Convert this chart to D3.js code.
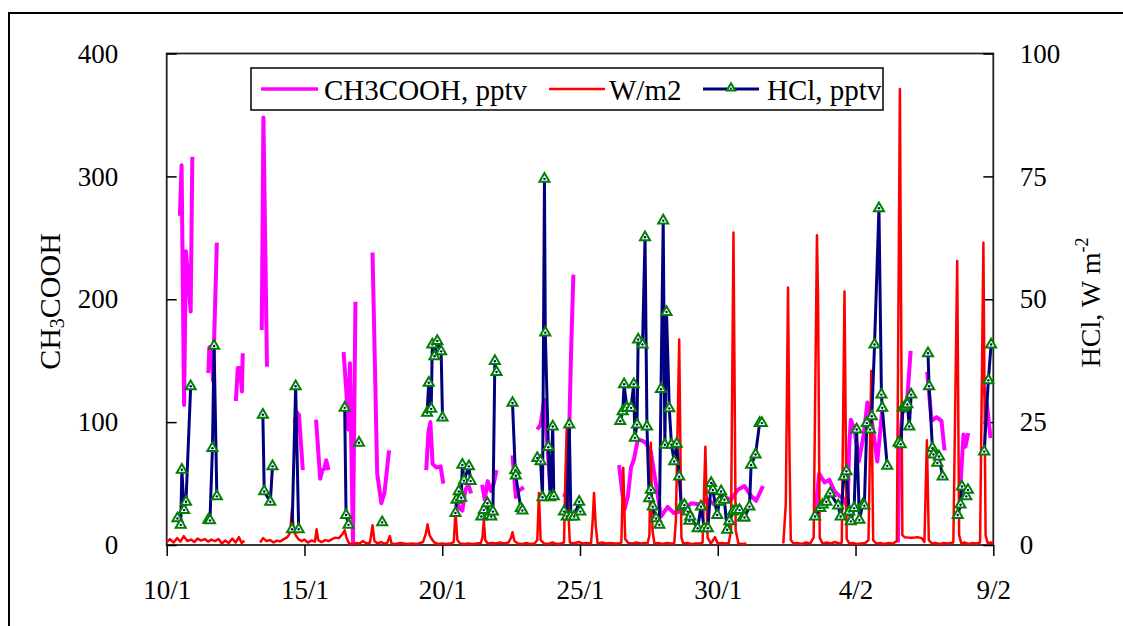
<!DOCTYPE html>
<html>
<head>
<meta charset="utf-8">
<script src="https://cdn.jsdelivr.net/npm/d3@7"></script>
<style>
  body { margin: 0; background: #fff; }
</style>
</head>
<body>
<script>
// x values are days counted from 1 January (10 = 10/1, 40 = 9/2); null breaks a line
const xTicks = [10, 15, 20, 25, 30, 35, 40];
const xTickLabels = ["10/1", "15/1", "20/1", "25/1", "30/1", "4/2", "9/2"];
const leftTicks = [0, 100, 200, 300, 400];
const rightTicks = [0, 25, 50, 75, 100];
const seriesNames = ["CH3COOH, pptv", "W/m2", "HCl, pptv"];

// CH3COOH (left axis, pptv)
const ch3cooh = [
  [10.48, 268], [10.54, 309], [10.63, 114], [10.70, 239], [10.87, 190], [10.93, 316], null,
  [11.51, 140], [11.55, 161], [11.64, 161], [11.68, 134], [11.82, 246], null,
  [12.51, 117], [12.58, 144], [12.67, 144], [12.73, 125], [12.76, 156], null,
  [13.45, 175], [13.51, 348], [13.64, 145], null,
  [14.64, 99], [14.72, 108], [14.80, 106], [14.94, 61], null,
  [15.42, 102], [15.57, 54], [15.65, 61], [15.72, 62], [15.79, 69], [15.87, 61], null,
  [16.42, 157], [16.52, 125], [16.59, 94], [16.65, 148], [16.70, 80], [16.76, 2], [16.85, 198], null,
  [17.47, 238], [17.64, 58], [17.79, 34], [17.90, 42], [18.07, 77], null,
  [19.42, 61], [19.50, 92], [19.57, 100], [19.65, 66], [19.79, 63], [19.94, 64], [20.04, 50], null,
  [20.51, 38], [20.62, 30], [20.73, 28], [20.84, 45], [20.95, 49], [21.05, 42], null,
  [21.45, 49], [21.54, 37], [21.65, 52], [21.76, 44], [21.87, 50], [21.97, 61], null,
  [22.55, 73], [22.67, 39], [22.77, 44], [22.96, 47], null,
  [23.45, 94], [23.57, 98], [23.70, 118], [23.82, 80], [23.92, 45], null,
  [24.42, 39], [24.52, 45], [24.61, 95], [24.68, 160], [24.76, 220], null,
  [26.42, 65], [26.52, 45], [26.62, 29], [26.74, 40], [26.85, 63], [26.96, 70], [27.10, 86], [27.25, 85],
  [27.39, 83], [27.57, 76], [27.76, 49], [27.94, 23], [28.18, 31], [28.41, 26], [28.77, 28], [29.03, 34],
  [29.39, 33], [29.64, 37], [29.87, 33], [30.12, 40], [30.48, 37], [30.73, 45], [30.97, 48], [31.21, 40],
  [31.39, 36], [31.64, 48], null,
  [33.52, 22], [33.68, 58], [33.87, 51], [34.05, 53], [34.23, 44], [34.41, 40], [34.56, 38], [34.71, 30],
  [34.77, 80], [34.83, 102], [34.96, 94], [35.12, 68], [35.30, 90], [35.43, 116], [35.61, 98], [35.79, 68],
  [35.97, 110], [36.10, 110], null,
  [36.54, 2], [36.59, 75], [36.70, 108], [36.85, 110], [37.00, 158], null,
  [37.60, 141], [37.76, 101], [37.94, 104], [38.12, 101], [38.23, 77], null,
  [38.79, 42], [38.92, 90], [38.99, 80], [39.09, 91], null,
  [39.65, 129], [39.78, 112], [39.90, 87]
];

// radiation W/m2 (right axis)
const radiation = [
  [10.00, 0.6], [10.12, 1.2], [10.25, 0.5], [10.38, 1.4], [10.50, 0.7], [10.62, 1.8], [10.75, 0.8], [10.88, 1.1],
  [11.00, 0.6], [11.12, 1.3], [11.25, 0.9], [11.38, 1.2], [11.50, 0.7], [11.62, 1.1], [11.75, 0.8], [11.88, 1.2],
  [12.00, 0.3], [12.12, 0.9], [12.25, 0.4], [12.38, 1.3], [12.50, 0.5], [12.62, 1.6], [12.72, 0.4], [12.82, 0.9], null,
  [13.39, 0.5], [13.50, 1.4], [13.62, 0.8], [13.75, 1.0], [13.88, 0.5], [14.00, 0.9], [14.12, 0.7], [14.25, 1.2],
  [14.38, 1.6], [14.48, 2.5], [14.55, 7.5], [14.60, 3.5], [14.68, 2.0], [14.78, 1.2], [14.90, 0.8], [15.00, 1.1],
  [15.12, 0.5], [15.25, 0.9], [15.38, 0.7], [15.44, 3.2], [15.50, 1.0], [15.62, 0.6], [15.75, 1.0], [15.88, 0.8],
  [16.00, 1.2], [16.12, 1.5], [16.25, 1.4], [16.38, 2.2], [16.46, 3.0], [16.52, 1.6], [16.62, 0.3], [16.75, 0.2],
  [16.88, 0.4], [17.00, 0.3], [17.12, 0.8], [17.25, 0.3], [17.38, 0.5], [17.47, 4.0], [17.54, 0.8], [17.65, 0.3],
  [17.78, 0.6], [17.90, 0.3], [18.00, 0.4], [18.10, 1.8], [18.16, 0.3], [18.30, 0.2], [18.50, 0.4], [18.70, 0.2],
  [18.90, 0.3], [19.10, 0.2], [19.30, 0.6], [19.40, 2.2], [19.47, 4.2], [19.54, 2.0], [19.62, 1.2], [19.72, 0.5],
  [19.85, 0.2], [20.00, 0.3], [20.15, 0.2], [20.30, 0.3], [20.42, 0.6], [20.48, 6.8], [20.55, 1.0], [20.65, 0.3],
  [20.80, 0.2], [20.95, 0.3], [21.10, 0.2], [21.25, 0.3], [21.40, 0.4], [21.46, 1.5], [21.51, 5.2], [21.56, 1.0],
  [21.65, 0.3], [21.80, 0.4], [21.95, 0.3], [22.10, 0.5], [22.25, 0.3], [22.40, 0.5], [22.50, 1.5], [22.55, 2.6],
  [22.62, 0.8], [22.75, 0.3], [22.90, 0.2], [23.05, 0.4], [23.20, 0.2], [23.35, 0.3], [23.45, 1.0], [23.51, 10.6],
  [23.57, 1.0], [23.70, 0.3], [23.85, 0.2], [24.00, 0.5], [24.15, 0.2], [24.30, 0.3], [24.42, 0.5], [24.47, 14],
  [24.52, 24], [24.57, 8], [24.63, 0.5], [24.78, 0.3], [24.95, 0.6], [25.10, 0.3], [25.25, 0.4], [25.40, 0.3],
  [25.46, 5], [25.51, 10.6], [25.57, 4], [25.64, 0.3], [25.80, 0.5], [25.95, 0.3], [26.10, 0.4], [26.25, 0.3],
  [26.40, 0.3], [26.50, 0.5], [26.57, 15.7], [26.64, 1.2], [26.75, 0.4], [26.90, 0.3], [27.05, 0.5], [27.20, 0.3],
  [27.35, 0.4], [27.45, 0.3], [27.52, 2], [27.57, 20.8], [27.63, 3], [27.70, 0.3], [27.85, 0.4], [28.00, 0.2],
  [28.15, 0.4], [28.30, 0.3], [28.42, 0.3], [28.48, 5], [28.60, 41.8], [28.68, 1.5], [28.75, 0.3], [28.90, 0.4],
  [29.05, 0.2], [29.20, 0.3], [29.35, 0.3], [29.45, 0.5], [29.55, 20], [29.63, 1.5], [29.75, 0.3], [29.90, 1.6],
  [30.00, 0.3], [30.15, 0.4], [30.28, 0.3], [30.40, 0.4], [30.48, 3], [30.57, 63.6], [30.65, 3], [30.75, 0.3],
  [30.90, 0.2], [31.04, 0.3], null,
  [32.38, 0.3], [32.47, 8.5], [32.55, 52.4], [32.60, 20], [32.65, 1.0], [32.75, 0.3], [32.90, 0.4], [33.05, 0.2],
  [33.20, 0.5], [33.35, 0.3], [33.48, 1.5], [33.60, 63], [33.64, 50], [33.70, 1.5], [33.80, 0.3], [33.95, 0.5],
  [34.10, 0.3], [34.25, 0.6], [34.40, 0.3], [34.50, 0.5], [34.60, 51.6], [34.68, 1.2], [34.78, 0.3], [34.90, 0.4],
  [35.05, 0.2], [35.20, 0.3], [35.35, 0.4], [35.47, 1.0], [35.57, 35.4], [35.64, 1.0], [35.75, 0.3], [35.90, 0.4],
  [36.05, 0.2], [36.20, 0.4], [36.35, 0.3], [36.50, 0.8], [36.61, 92.8], [36.70, 2], [36.78, 1.6], [36.95, 1.5],
  [37.10, 1.5], [37.25, 1.6], [37.40, 1.4], [37.50, 0.6], [37.59, 21.3], [37.66, 1.0], [37.78, 0.3], [37.90, 0.4],
  [38.05, 0.2], [38.20, 0.4], [38.35, 0.3], [38.55, 0.5], [38.69, 57.8], [38.76, 2], [38.84, 0.3], [38.95, 0.5],
  [39.10, 0.2], [39.25, 0.4], [39.40, 0.3], [39.52, 0.5], [39.64, 61.5], [39.72, 2], [39.80, 0.3], [39.90, 0.5],
  [40.00, 0.3]
];

// HCl (right axis, pptv)
const hcl = [
  [10.39, 5.4], [10.51, 4.1], [10.55, 15.3], [10.63, 7.1], [10.70, 8.8], [10.87, 32.3], null,
  [11.51, 5.1], [11.57, 5.0], [11.66, 19.7], [11.72, 40.5], [11.82, 9.9], null,
  [13.49, 26.5], [13.54, 10.9], [13.76, 8.8], [13.84, 16.0], null,
  [14.55, 3.2], [14.68, 32.3], [14.79, 3.2], null,
  [16.46, 27.9], [16.51, 6.1], [16.60, 4.1], null,
  [16.98, 20.8], null,
  [17.82, 4.6], null,
  [19.45, 26.9], [19.51, 33.0], [19.60, 27.7], [19.64, 40.8], [19.72, 38.4], [19.82, 41.5], [19.96, 39.4], [20.01, 25.9], null,
  [20.48, 6.5], [20.52, 9.2], [20.60, 10.9], [20.69, 9.6], [20.73, 16.3], [20.79, 13.1], [20.97, 16.0], [21.03, 13.0], null,
  [21.42, 5.8], [21.51, 7.1], [21.64, 8.5], [21.69, 6.1], [21.78, 5.8], [21.84, 6.8], [21.91, 37.4], [21.97, 35.2], null,
  [22.55, 28.9], [22.65, 15.2], [22.67, 14.1], [22.85, 7.5], [22.91, 7.0], null,
  [23.45, 17.7], [23.57, 17.0], [23.64, 9.7], [23.71, 74.5], [23.74, 43.2], [23.85, 19.9], [23.92, 9.7], [24.01, 24.1], [24.05, 9.9], null,
  [24.42, 6.8], [24.52, 5.8], [24.61, 24.5], [24.67, 5.8], [24.79, 5.8], [24.97, 8.8], [25.01, 6.8], null,
  [26.46, 25.2], [26.55, 27.2], [26.60, 32.7], [26.70, 27.9], [26.85, 27.9], [26.95, 32.7], [26.99, 21.8], [27.07, 24.5],
  [27.11, 41.8], [27.27, 40.8], [27.36, 62.6], [27.43, 24.1], [27.51, 9.5], [27.57, 11.2], [27.64, 7.8], [27.76, 5.4],
  [27.88, 4.1], [27.94, 31.7], [28.02, 66.0], [28.08, 20.4], [28.14, 47.4], [28.24, 27.8], [28.32, 20.4], [28.42, 17.0],
  [28.51, 20.6], [28.60, 13.9], [28.68, 7.8], [28.79, 8.1], [28.91, 6.8], [28.97, 4.9], [29.00, 5.8], [29.27, 3.4],
  [29.39, 7.8], [29.51, 3.4], [29.64, 3.4], [29.76, 12.6], [29.82, 11.2], [29.98, 6.1], [30.06, 8.8], [30.12, 10.9],
  [30.24, 9.2], [30.34, 3.1], [30.42, 4.8], [30.55, 6.8], [30.67, 7.1], [30.79, 7.1], [30.91, 5.6], [30.97, 5.6],
  [31.15, 7.8], [31.21, 16.3], [31.37, 18.4], [31.52, 24.8], [31.60, 24.8], null,
  [33.53, 5.8], [33.72, 7.5], [33.81, 8.2], [33.94, 8.8], [34.08, 10.5], [34.37, 8.0], [34.46, 5.8], [34.58, 13.9],
  [34.67, 15.0], [34.77, 6.8], [34.83, 4.8], [34.95, 7.5], [35.04, 23.5], [35.14, 5.1], [35.26, 8.2], [35.32, 8.0],
  [35.41, 24.8], [35.53, 23.5], [35.59, 26.2], [35.69, 40.8], [35.85, 68.5], [35.94, 30.6], [35.97, 27.9], [36.15, 16.1], null,
  [36.56, 20.8], [36.64, 20.5], [36.72, 27.9], [36.80, 28.2], [36.88, 28.6], [36.95, 24.1], [37.02, 30.6], null,
  [37.63, 39.0], [37.67, 32.3], [37.79, 19.7], [37.83, 18.4], [37.97, 16.7], [38.03, 18.0], [38.16, 13.9], null,
  [38.71, 6.1], [38.81, 8.2], [38.86, 11.9], [39.02, 9.9], [39.08, 11.2], null,
  [39.67, 19.0], [39.82, 33.5], [39.92, 40.8]
];

// set the dimensions and margins of the graph
const margin = { top: 53.5, right: 129.7, bottom: 81, left: 166.7 };
const width = 1123 - margin.left - margin.right;   // 826.6
const height = 626 - margin.top - margin.bottom;   // 491.5
const font = "Liberation Serif";

const svgRoot = d3.select("body")
    .append("svg")
    .attr("width", 1123)
    .attr("height", 626)
    .style("font-family", font);

// outer chart frame (runs off the right and bottom edges)
svgRoot.append("rect")
    .attr("x", 9).attr("y", 13)
    .attr("width", 1140).attr("height", 640)
    .attr("fill", "none")
    .attr("stroke", "#000")
    .attr("stroke-width", 2);

const svg = svgRoot.append("g")
    .attr("transform", "translate(" + margin.left + "," + margin.top + ")");

// scales
const x = d3.scaleLinear().domain([10, 40]).range([0, width]);
const yLeft = d3.scaleLinear().domain([0, 400]).range([height, 0]);
const yRight = d3.scaleLinear().domain([0, 100]).range([height, 0]);

// plot box
svg.append("rect")
    .attr("width", width)
    .attr("height", height)
    .attr("fill", "none")
    .attr("stroke", "#222")
    .attr("stroke-width", 1.8);

// x axis, ticks outward
const xAxis = svg.append("g")
    .call(d3.axisBottom(x).tickValues(xTicks).tickFormat((d, i) => xTickLabels[i]).tickSize(11).tickSizeOuter(0))
    .attr("transform", "translate(0," + height + ")")
    .attr("font-family", font)
    .attr("font-size", 27);
xAxis.select(".domain").remove();
xAxis.selectAll("line").attr("stroke-width", 1.5);
xAxis.selectAll("text").attr("dy", 0).attr("y", 54);

// left axis, ticks inward
const yAxisL = svg.append("g")
    .call(d3.axisLeft(yLeft).tickValues(leftTicks).tickSize(-10).tickPadding(48.5))
    .attr("font-family", font)
    .attr("font-size", 27);
yAxisL.select(".domain").remove();
yAxisL.selectAll("line").attr("stroke-width", 1.5);

// right axis, ticks inward
const yAxisR = svg.append("g")
    .call(d3.axisRight(yRight).tickValues(rightTicks).tickSize(-10).tickPadding(26.5))
    .attr("transform", "translate(" + width + ",0)")
    .attr("font-family", font)
    .attr("font-size", 27);
yAxisR.select(".domain").remove();
yAxisR.selectAll("line").attr("stroke-width", 1.5);

// lines
const lineLeft = d3.line().defined(d => d !== null).x(d => x(d[0])).y(d => yLeft(d[1]));
const lineRight = d3.line().defined(d => d !== null).x(d => x(d[0])).y(d => yRight(d[1]));

svg.append("path")
    .datum(ch3cooh)
    .attr("d", lineLeft)
    .attr("fill", "none")
    .attr("stroke", "#ff00ff")
    .attr("stroke-width", 4)
    .attr("stroke-linejoin", "round");

svg.append("path")
    .datum(radiation)
    .attr("d", lineRight)
    .attr("fill", "none")
    .attr("stroke", "#ff0000")
    .attr("stroke-width", 2.5)
    .attr("stroke-linejoin", "round");

svg.append("path")
    .datum(hcl)
    .attr("d", lineRight)
    .attr("fill", "none")
    .attr("stroke", "#000080")
    .attr("stroke-width", 3)
    .attr("stroke-linejoin", "round");

// HCl markers: hollow green triangles with a small navy centre
const tri = d3.symbol().type(d3.symbolTriangle).size(44);
const hclPoints = hcl.filter(d => d !== null);
const markers = svg.selectAll(".hcl-marker")
    .data(hclPoints)
    .enter()
    .append("g")
    .attr("class", "hcl-marker")
    .attr("transform", d => "translate(" + x(d[0]) + "," + yRight(d[1]) + ")");
markers.append("path")
    .attr("d", tri)
    .attr("fill", "#fff")
    .attr("stroke", "#008000")
    .attr("stroke-width", 2);
markers.append("circle")
    .attr("r", 1.2)
    .attr("fill", "#000080");

// axis titles
svgRoot.append("text")
    .attr("transform", "translate(59.5,301.5) rotate(-90)")
    .attr("text-anchor", "middle")
    .attr("font-family", font)
    .attr("font-size", 30)
    .call(t => {
        t.append("tspan").text("CH");
        t.append("tspan").attr("font-size", 20).attr("dy", 4).text("3");
        t.append("tspan").attr("dy", -4).text("COOH");
    });

svgRoot.append("text")
    .attr("transform", "translate(1100,302.5) rotate(-90)")
    .attr("text-anchor", "middle")
    .attr("font-family", font)
    .attr("font-size", 28)
    .call(t => {
        t.append("tspan").text("HCl, W m");
        t.append("tspan").attr("font-size", 18).attr("dy", -12).text("-2");
    });

// legend
const legend = svgRoot.append("g");
legend.append("rect")
    .attr("x", 251).attr("y", 68)
    .attr("width", 632).attr("height", 42)
    .attr("fill", "#fff")
    .attr("stroke", "#000")
    .attr("stroke-width", 1.5);

const legendItems = [
    { name: seriesNames[0], color: "#ff00ff", w: 3.5, x0: 261, x1: 318, tx: 324 },
    { name: seriesNames[1], color: "#ff0000", w: 2.5, x0: 549, x1: 605, tx: 609 },
    { name: seriesNames[2], color: "#000080", w: 3, x0: 703, x1: 759, tx: 767 }
];
legendItems.forEach((it, i) => {
    legend.append("line")
        .attr("x1", it.x0).attr("x2", it.x1)
        .attr("y1", 89).attr("y2", 89)
        .attr("stroke", it.color)
        .attr("stroke-width", it.w);
    legend.append("text")
        .attr("x", it.tx).attr("y", 100)
        .attr("font-family", font)
        .attr("font-size", 29)
        .text(it.name);
    if (i === 2) {
        const mx = (it.x0 + it.x1) / 2;
        legend.append("path")
            .attr("d", d3.symbol().type(d3.symbolTriangle).size(30)())
            .attr("transform", "translate(" + mx + ",88)")
            .attr("fill", "#fff")
            .attr("stroke", "#008000")
            .attr("stroke-width", 2);
        legend.append("circle")
            .attr("cx", mx).attr("cy", 88.5).attr("r", 1)
            .attr("fill", "#000080");
    }
});
</script>
</body>
</html>
